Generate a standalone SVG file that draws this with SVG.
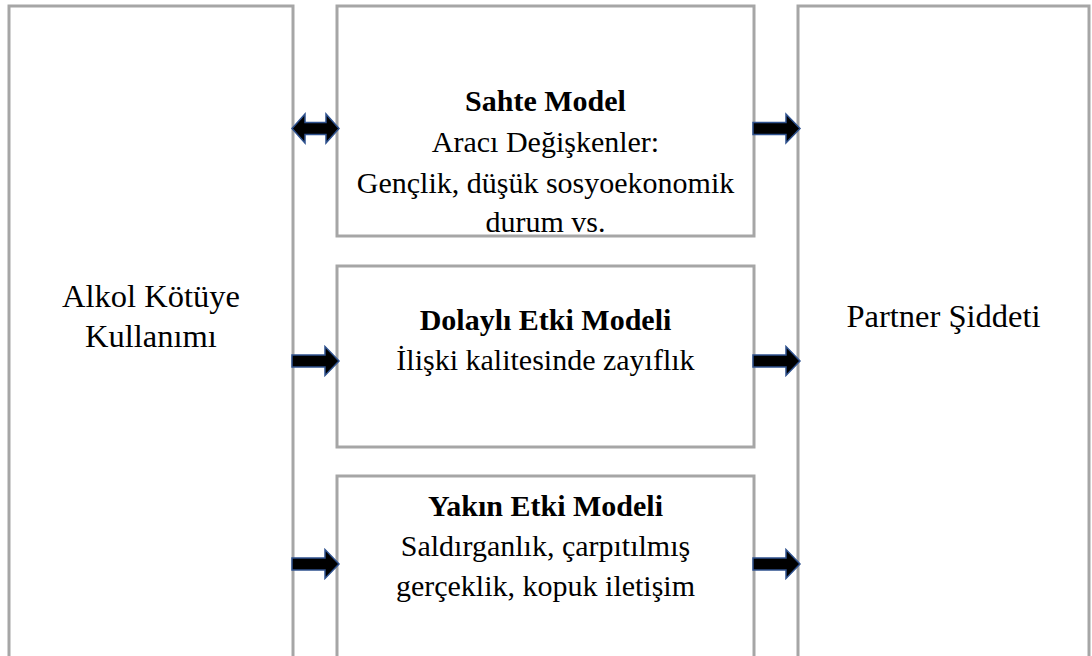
<svg xmlns="http://www.w3.org/2000/svg" width="1092" height="656" viewBox="0 0 1092 656">
<style>
.box{fill:#fff;stroke:#A6A6A6;stroke-width:3}
.t{font-family:"Liberation Serif","Times New Roman",serif;font-size:30px;fill:#000;text-anchor:middle}
.s{font-size:32.5px}
.b{font-weight:bold}
.arr{fill:#000;stroke:#2F528F;stroke-width:1.5;stroke-linejoin:miter}
</style>
<defs>
<path id="ra" d="M0,-6 H33 V-14.5 L47,0 L33,14.5 V6 H0 Z"/>
<path id="da" d="M0,0 L13,-14.5 V-6 H34 V-14.5 L47,0 L34,14.5 V6 H13 V14.5 Z"/>
</defs>
<rect width="1092" height="656" fill="#fff"/>
<g id="alkol">
<rect class="box" x="9" y="6" width="284" height="670"/>
<text class="t s" x="151" y="307">Alkol Kötüye</text>
<text class="t s" x="151" y="347">Kullanımı</text>
</g>
<g id="sahte">
<rect class="box" x="337" y="6" width="417" height="230"/>
<text class="t b" x="545.5" y="111">Sahte Model</text>
<text class="t" x="545.5" y="152">Aracı Değişkenler:</text>
<text class="t" x="545.5" y="193">Gençlik, düşük sosyoekonomik</text>
<text class="t" x="545.5" y="232">durum vs.</text>
</g>
<g id="dolayli">
<rect class="box" x="337" y="266" width="417" height="181"/>
<text class="t b" x="545.5" y="330">Dolaylı Etki Modeli</text>
<text class="t" x="545.5" y="370">İlişki kalitesinde zayıflık</text>
</g>
<g id="yakin">
<rect class="box" x="337" y="476" width="417" height="200"/>
<text class="t b" x="545.5" y="516">Yakın Etki Modeli</text>
<text class="t" x="545.5" y="556">Saldırganlık, çarpıtılmış</text>
<text class="t" x="545.5" y="596">gerçeklik, kopuk iletişim</text>
</g>
<g id="partner">
<rect class="box" x="798" y="6" width="291" height="670"/>
<text class="t s" x="943.5" y="327">Partner Şiddeti</text>
</g>
<g id="connectors">
<use href="#da" class="arr" transform="translate(292,128.5)"/>
<use href="#ra" class="arr" transform="translate(753,128.5)"/>
<use href="#ra" class="arr" transform="translate(292,361)"/>
<use href="#ra" class="arr" transform="translate(753,361)"/>
<use href="#ra" class="arr" transform="translate(292,564)"/>
<use href="#ra" class="arr" transform="translate(753,564)"/>
</g>
</svg>
